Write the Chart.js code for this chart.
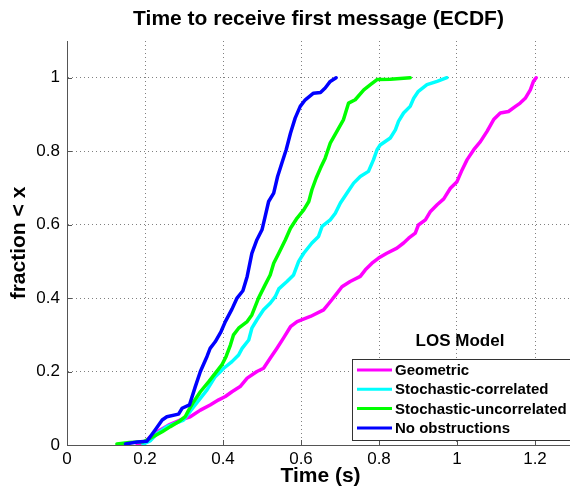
<!DOCTYPE html>
<html>
<head>
<meta charset="utf-8">
<script src="https://cdn.jsdelivr.net/npm/chart.js@4.4.1/dist/chart.umd.min.js"></script>
<style>
    html, body { margin: 0; padding: 0; background: #fff; overflow: hidden; }
    #wrap { width: 580px; height: 489px; }
</style>
</head>
<body>
<div id="wrap"><canvas id="ecdfChart"></canvas></div>
<script>
const X_TICKS = [0, 0.2, 0.4, 0.6, 0.8, 1, 1.2];
const Y_TICKS = [0, 0.2, 0.4, 0.6, 0.8, 1];
const SERIES_NAMES = ['Geometric', 'Stochastic-correlated', 'Stochastic-uncorrelated', 'No obstructions'];
const SERIES_COLORS = ['#ff00ff', '#00ffff', '#00ff00', '#0000ff'];

const geometricX = [0.180, 0.200, 0.214, 0.239, 0.260, 0.290, 0.316, 0.342, 0.367, 0.389, 0.406, 0.423, 0.444, 0.462, 0.487, 0.504, 0.521, 0.538, 0.555, 0.573, 0.590, 0.624, 0.658, 0.675, 0.692, 0.705, 0.726, 0.752, 0.765, 0.782, 0.799, 0.820, 0.846, 0.863, 0.876, 0.893, 0.901, 0.919, 0.932, 0.949, 0.966, 0.983, 1.000, 1.013, 1.026, 1.043, 1.060, 1.077, 1.094, 1.111, 1.132, 1.150, 1.162, 1.175, 1.188, 1.196, 1.203];
const geometricY = [0.002, 0.008, 0.023, 0.041, 0.054, 0.068, 0.077, 0.095, 0.109, 0.123, 0.132, 0.145, 0.159, 0.182, 0.200, 0.209, 0.236, 0.263, 0.291, 0.322, 0.336, 0.350, 0.368, 0.390, 0.413, 0.431, 0.445, 0.459, 0.477, 0.495, 0.509, 0.522, 0.536, 0.550, 0.563, 0.577, 0.599, 0.613, 0.636, 0.654, 0.670, 0.699, 0.717, 0.749, 0.777, 0.804, 0.826, 0.854, 0.886, 0.904, 0.908, 0.922, 0.931, 0.944, 0.967, 0.990, 1.000];

const stochCorrX = [0.195, 0.214, 0.230, 0.256, 0.299, 0.325, 0.359, 0.380, 0.402, 0.423, 0.440, 0.449, 0.466, 0.474, 0.487, 0.504, 0.521, 0.534, 0.543, 0.564, 0.581, 0.594, 0.607, 0.628, 0.645, 0.654, 0.675, 0.688, 0.701, 0.718, 0.735, 0.752, 0.773, 0.786, 0.795, 0.803, 0.829, 0.842, 0.850, 0.863, 0.880, 0.889, 0.901, 0.923, 0.949, 0.974];
const stochCorrY = [0.002, 0.012, 0.030, 0.050, 0.068, 0.104, 0.150, 0.186, 0.209, 0.227, 0.245, 0.263, 0.286, 0.318, 0.341, 0.368, 0.386, 0.404, 0.425, 0.445, 0.463, 0.500, 0.522, 0.550, 0.568, 0.595, 0.613, 0.631, 0.659, 0.686, 0.713, 0.731, 0.745, 0.777, 0.804, 0.817, 0.836, 0.858, 0.881, 0.904, 0.922, 0.944, 0.963, 0.981, 0.990, 1.000];

const stochUncorrX = [0.128, 0.160, 0.196, 0.222, 0.244, 0.265, 0.286, 0.303, 0.312, 0.325, 0.342, 0.363, 0.380, 0.397, 0.408, 0.419, 0.427, 0.440, 0.462, 0.474, 0.491, 0.508, 0.521, 0.530, 0.543, 0.560, 0.573, 0.590, 0.607, 0.620, 0.628, 0.639, 0.650, 0.662, 0.675, 0.692, 0.709, 0.722, 0.739, 0.761, 0.778, 0.795, 0.829, 0.880];
const stochUncorrY = [0.003, 0.007, 0.009, 0.023, 0.036, 0.050, 0.063, 0.077, 0.095, 0.118, 0.145, 0.172, 0.195, 0.218, 0.241, 0.272, 0.300, 0.318, 0.336, 0.354, 0.400, 0.436, 0.463, 0.495, 0.522, 0.559, 0.590, 0.618, 0.640, 0.663, 0.695, 0.727, 0.754, 0.781, 0.822, 0.854, 0.886, 0.931, 0.940, 0.967, 0.981, 0.995, 0.996, 1.000];

const noObstructionX = [0.150, 0.180, 0.205, 0.226, 0.244, 0.256, 0.286, 0.295, 0.314, 0.329, 0.342, 0.359, 0.367, 0.380, 0.395, 0.406, 0.423, 0.436, 0.451, 0.462, 0.474, 0.487, 0.500, 0.508, 0.517, 0.530, 0.540, 0.551, 0.562, 0.573, 0.585, 0.598, 0.611, 0.632, 0.650, 0.662, 0.675, 0.690];
const noObstructionY = [0.003, 0.008, 0.010, 0.041, 0.068, 0.077, 0.084, 0.100, 0.109, 0.159, 0.200, 0.241, 0.263, 0.281, 0.309, 0.336, 0.370, 0.400, 0.420, 0.459, 0.522, 0.559, 0.586, 0.622, 0.663, 0.686, 0.731, 0.768, 0.804, 0.849, 0.890, 0.922, 0.940, 0.958, 0.960, 0.972, 0.990, 1.000];

const FONT = '"Liberation Sans", Arial, Helvetica, sans-serif';
const AXIS_GRAY = '#555555';
const CHART_TITLE = 'Time to receive first message (ECDF)';

const toPoints = (xs, ys) => xs.map((x, i) => ({ x: x, y: ys[i] }));

const seriesPoints = [
    toPoints(geometricX, geometricY),
    toPoints(stochCorrX, stochCorrY),
    toPoints(stochUncorrX, stochUncorrY),
    toPoints(noObstructionX, noObstructionY),
];

// title centred over the axes, not over the whole canvas
const axesTitle = {
    id: 'axesTitle',
    afterDraw(chart) {
        const { ctx, chartArea } = chart;
        ctx.save();
        ctx.fillStyle = '#000000';
        ctx.font = 'bold 21px ' + FONT;
        ctx.textAlign = 'center';
        ctx.textBaseline = 'middle';
        ctx.fillText(CHART_TITLE, (chartArea.left + chartArea.right) / 2 - 2, 19);
        ctx.restore();
    },
};

// MATLAB-style ticks pointing into the axes
const insideTicks = {
    id: 'insideTicks',
    beforeDatasetsDraw(chart) {
        const { ctx, chartArea, scales } = chart;
        ctx.save();
        ctx.strokeStyle = AXIS_GRAY;
        ctx.lineWidth = 1;
        ctx.beginPath();
        X_TICKS.forEach((v) => {
            const px = Math.round(scales.x.getPixelForValue(v)) + 0.5;
            ctx.moveTo(px, chartArea.bottom);
            ctx.lineTo(px, chartArea.bottom - 5);
        });
        Y_TICKS.forEach((v) => {
            const py = Math.round(scales.y.getPixelForValue(v)) + 0.5;
            ctx.moveTo(chartArea.left, py);
            ctx.lineTo(chartArea.left + 5, py);
        });
        ctx.stroke();
        ctx.restore();
    },
};

// legend box in the lower right corner, with its title above
const losLegend = {
    id: 'losLegend',
    afterDraw(chart) {
        const { ctx, chartArea } = chart;
        const left = chartArea.left + 285;
        const top = chartArea.bottom - 86;
        const bottom = chartArea.bottom - 5;
        ctx.save();
        ctx.fillStyle = '#ffffff';
        ctx.fillRect(left, top, chart.width - left + 10, bottom - top);
        ctx.strokeStyle = '#333333';
        ctx.lineWidth = 1;
        ctx.strokeRect(left + 0.5, top + 0.5, chart.width - left + 10, bottom - top);

        ctx.fillStyle = '#000000';
        ctx.font = 'bold 17px ' + FONT;
        ctx.textAlign = 'center';
        ctx.textBaseline = 'middle';
        ctx.fillText('LOS Model', left + 108, top - 18);

        ctx.font = 'bold 15px ' + FONT;
        ctx.textAlign = 'left';
        chart.data.datasets.forEach((ds, i) => {
            const y = top + 11 + i * 19.3;
            ctx.strokeStyle = ds.borderColor;
            ctx.lineWidth = 3;
            ctx.beginPath();
            ctx.moveTo(left + 5, y);
            ctx.lineTo(left + 40, y);
            ctx.stroke();
            ctx.fillStyle = '#000000';
            ctx.fillText(ds.label, left + 43, y + 1);
        });
        ctx.restore();
    },
};

new Chart(document.getElementById('ecdfChart').getContext('2d'), {
    type: 'line',
    data: {
        datasets: SERIES_NAMES.map((name, i) => ({
            label: name,
            data: seriesPoints[i],
            borderColor: SERIES_COLORS[i],
            backgroundColor: SERIES_COLORS[i],
            borderWidth: 3.5,
            borderJoinStyle: 'round',
            borderCapStyle: 'round',
            pointRadius: 0,
            tension: 0,
            fill: false,
            order: SERIES_NAMES.length - i,
        })),
    },
    options: {
        responsive: true,
        maintainAspectRatio: false,
        animation: false,
        layout: {
            padding: { top: 41, right: 6 },
        },
        plugins: {
            legend: { display: false },
            tooltip: { enabled: false },
            title: { display: false },
        },
        scales: {
            x: {
                type: 'linear',
                min: 0,
                max: 1.3,
                afterBuildTicks: (scale) => {
                    scale.ticks = X_TICKS.map((v) => ({ value: v }));
                },
                afterFit: (scale) => {
                    scale.height = 44;
                },
                grid: {
                    color: '#808080',
                    lineWidth: 1,
                    drawTicks: false,
                },
                border: {
                    display: true,
                    color: AXIS_GRAY,
                    width: 1,
                    dash: [1, 3],
                },
                ticks: {
                    color: '#000000',
                    padding: 4,
                    maxRotation: 0,
                    font: { family: FONT, size: 17 },
                    callback: (v) => String(v),
                },
                title: {
                    display: true,
                    text: 'Time (s)',
                    color: '#000000',
                    font: { family: FONT, size: 21, weight: 'bold', lineHeight: 1.2 },
                    padding: 0,
                },
            },
            y: {
                type: 'linear',
                min: 0,
                max: 1.1,
                afterBuildTicks: (scale) => {
                    scale.ticks = Y_TICKS.map((v) => ({ value: v }));
                },
                afterFit: (scale) => {
                    scale.width = 67;
                },
                grid: {
                    color: '#808080',
                    lineWidth: 1,
                    drawTicks: false,
                },
                border: {
                    display: true,
                    color: AXIS_GRAY,
                    width: 1,
                    dash: [1, 3],
                },
                ticks: {
                    color: '#000000',
                    padding: 7,
                    font: { family: FONT, size: 17 },
                    callback: (v) => String(v),
                },
                title: {
                    display: true,
                    text: 'fraction < x',
                    color: '#000000',
                    font: { family: FONT, size: 21, weight: 'bold', lineHeight: 1.2 },
                    padding: { top: 7, bottom: 0 },
                },
            },
        },
    },
    plugins: [axesTitle, insideTicks, losLegend],
});
</script>
</body>
</html>
